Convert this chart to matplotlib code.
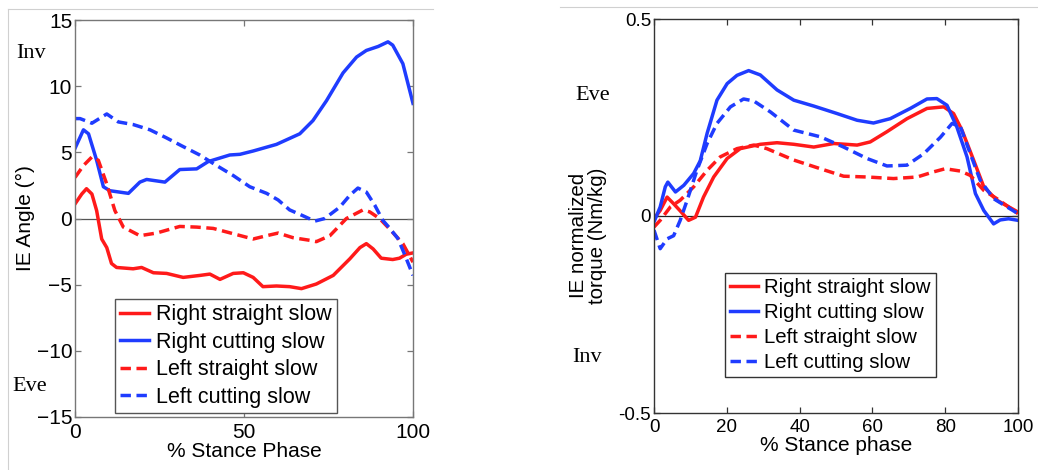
import matplotlib
matplotlib.use("Agg")
import matplotlib.pyplot as plt
from matplotlib.lines import Line2D

plt.rcParams['font.family'] = ['Liberation Sans', 'DejaVu Sans']

# ---- left panel: IE angle ----
rs_x = [0, 2, 3.4, 5, 6.4, 7.9, 9.4, 10.8, 12.3, 17.2, 19.7, 23.2, 27.1, 32, 37, 39.9, 42.9, 46.8,
        49.8, 52.7, 55.6, 59.6, 63.5, 67, 71.4, 76.4, 81.3, 84.3, 86.2, 88.2, 90.6, 94, 96, 98, 100]
rs_y = [1.1, 1.85, 2.25, 1.85, 0.6, -1.55, -2.2, -3.4, -3.7, -3.8, -3.7, -4.1, -4.15, -4.45, -4.3, -4.2,
        -4.6, -4.15, -4.1, -4.45, -5.15, -5.1, -5.15, -5.3, -4.95, -4.3, -3.05, -2.2, -1.9, -2.3, -3.0,
        -3.1, -3.0, -2.7, -2.6]

rc_x = [0, 2.5, 4, 6.4, 8.4, 10.3, 15.8, 19.2, 21.2, 26.6, 31, 36, 39.4, 45.8, 48.8, 52.7, 59.6, 66.5,
        70.4, 74.4, 79.3, 83.3, 86.2, 89.7, 92.6, 94, 97, 100]
rc_y = [5.3, 6.7, 6.4, 4.4, 2.4, 2.1, 1.9, 2.75, 2.95, 2.75, 3.7, 3.75, 4.3, 4.8, 4.85, 5.1, 5.6, 6.4,
        7.4, 8.9, 11.0, 12.2, 12.7, 13.0, 13.35, 13.1, 11.7, 8.7]

ls_x = [0, 2.5, 5, 6.9, 9.4, 11.8, 14.3, 19.2, 24.1, 31, 36, 40.9, 46.8, 52.7, 56.7, 60.1, 64.5, 69.5,
        71.4, 75.4, 80.3, 85.2, 87.2, 90.1, 93.1, 97, 100]
ls_y = [3.1, 4.0, 4.65, 4.4, 2.6, 0.6, -0.65, -1.3, -1.1, -0.6, -0.65, -0.75, -1.15, -1.55, -1.3, -1.1,
        -1.45, -1.65, -1.75, -1.3, 0.0, 0.65, 0.5, 0.0, -0.8, -1.9, -3.3]

lc_x = [0, 1.5, 5, 9.4, 12.8, 17.2, 22.2, 27, 31.5, 36.9, 41.9, 46.8, 51.7, 56.7, 60.1, 63.5, 67.5,
        70.9, 73.9, 78.3, 81.3, 83.7, 86.2, 88.7, 91.1, 93, 95.5, 97.5, 100]
lc_y = [7.55, 7.55, 7.2, 7.9, 7.3, 7.1, 6.7, 6.1, 5.5, 4.8, 4.0, 3.25, 2.4, 1.9, 1.4, 0.65, 0.2, -0.2,
        0.0, 0.85, 1.75, 2.3, 2.0, 1.0, -0.15, -0.7, -1.5, -2.7, -4.3]

# ---- right panel: IE normalized torque ----
trs_x = [0, 1.7, 3.6, 5.4, 7.2, 9.5, 11.4, 13.6, 16.4, 20.1, 23.7, 29.2, 33.8, 38.4, 43.9, 49.4, 55.8,
         59.4, 64, 69.5, 75, 79.6, 82.3, 84.6, 87.8, 90.6, 94.2, 100]
trs_y = [-0.007, 0.014, 0.048, 0.031, 0.013, -0.011, -0.003, 0.048, 0.099, 0.146, 0.171, 0.182, 0.186,
         0.182, 0.175, 0.184, 0.18, 0.188, 0.214, 0.247, 0.273, 0.277, 0.26, 0.218, 0.142, 0.074, 0.04,
         0.01]

trc_x = [0, 1.7, 3.1, 3.8, 5.9, 8.2, 10.9, 12.7, 14.6, 17.3, 20.1, 22.8, 26, 29.2, 33.8, 38.4, 43.9,
         50.3, 55.8, 60.3, 64.9, 70.4, 75, 77.7, 80.5, 83.2, 86, 88.3, 90.6, 93.3, 95.1, 97.4, 100]
trc_y = [-0.015, 0.023, 0.074, 0.086, 0.061, 0.078, 0.108, 0.14, 0.21, 0.294, 0.336, 0.357, 0.369,
         0.358, 0.32, 0.294, 0.279, 0.26, 0.243, 0.236, 0.247, 0.273, 0.297, 0.298, 0.281, 0.226, 0.15,
         0.057, 0.014, -0.02, -0.01, -0.007, -0.011]

tls_x = [0, 1.7, 4.5, 7.2, 10.9, 14.6, 18.2, 22.8, 27.4, 31, 38.4, 45.7, 52.1, 58.5, 65.8, 72.3, 76.8,
         80, 84.2, 86.9, 90.6, 94.2, 100]
tls_y = [-0.028, -0.011, 0.023, 0.04, 0.074, 0.116, 0.15, 0.171, 0.18, 0.171, 0.142, 0.12, 0.101,
         0.099, 0.095, 0.099, 0.112, 0.12, 0.114, 0.103, 0.065, 0.044, 0.006]

tlc_x = [0, 1.7, 3.6, 5.4, 7.2, 9.1, 11.8, 14.6, 17.3, 21, 24.6, 27.4, 32, 38.4, 45.7, 52.1, 58.5, 64,
         69.5, 74.1, 78.7, 81.9, 84.2, 86.9, 89.6, 93.3, 100]
tlc_y = [-0.036, -0.083, -0.058, -0.05, -0.011, 0.04, 0.116, 0.184, 0.235, 0.277, 0.297, 0.292, 0.264,
         0.218, 0.201, 0.175, 0.146, 0.127, 0.129, 0.158, 0.2, 0.235, 0.226, 0.158, 0.091, 0.044, 0.006]

labels = ["Right straight slow", "Right cutting slow", "Left straight slow", "Left cutting slow"]
red = '#ff1a1a'
blue = '#1f3cff'
dash = (3.0, 1.6)
lw = 2.5

fig = plt.figure(figsize=(10.38, 4.7), dpi=100)

# faint panel borders like the source image
fig.add_artist(Line2D([8/1038, 8/1038], [0, 1 - 9/470], color='#d0d0d0', lw=0.8))
fig.add_artist(Line2D([8/1038, 433/1038], [1 - 9/470, 1 - 9/470], color='#d0d0d0', lw=0.8))
fig.add_artist(Line2D([560/1038, 1], [1 - 7/470, 1 - 7/470], color='#d0d0d0', lw=0.8))

ax1 = fig.add_axes([75/1038, 1 - 417/470, 338/1038, 397/470])
ax2 = fig.add_axes([654/1038, 1 - 413/470, 364/1038, 394/470])

# left
ax1.axhline(0, color='#555555', lw=0.9, zorder=1)
ax1.plot(rs_x, rs_y, color=red, lw=lw, label=labels[0])
ax1.plot(rc_x, rc_y, color=blue, lw=lw, label=labels[1])
ax1.plot(ls_x, ls_y, color=red, lw=lw, dashes=dash, label=labels[2])
ax1.plot(lc_x, lc_y, color=blue, lw=lw, dashes=dash, label=labels[3])
ax1.set_xlim(0, 100)
ax1.set_ylim(-15, 15)
ax1.set_xticks([0, 50, 100])
ax1.set_yticks([-15, -10, -5, 0, 5, 10, 15])
ax1.set_xlabel("% Stance Phase", fontsize=15, labelpad=0)
ax1.set_ylabel("IE Angle (°)", fontsize=15, labelpad=1)
ax1.text(-0.175, 0.915, "Inv", transform=ax1.transAxes, fontsize=16, family='Liberation Serif', va='center')
ax1.text(-0.185, 0.078, "Eve", transform=ax1.transAxes, fontsize=16, family='Liberation Serif', va='center')
leg1 = ax1.legend(loc='lower left', bbox_to_anchor=(0.118, 0.01), borderaxespad=0, fontsize=15.5,
                  fancybox=False, edgecolor='#555555', framealpha=1, handlelength=1.35,
                  handletextpad=0.3, labelspacing=0.3, borderpad=0.25)
leg1.get_frame().set_linewidth(1.0)

# right
ax2.axhline(0, color='#222222', lw=0.9, zorder=1)
ax2.plot(trs_x, trs_y, color=red, lw=lw, label=labels[0])
ax2.plot(trc_x, trc_y, color=blue, lw=lw, label=labels[1])
ax2.plot(tls_x, tls_y, color=red, lw=lw, dashes=dash, label=labels[2])
ax2.plot(tlc_x, tlc_y, color=blue, lw=lw, dashes=dash, label=labels[3])
ax2.set_xlim(0, 100)
ax2.set_ylim(-0.5, 0.5)
ax2.set_xticks([0, 20, 40, 60, 80, 100])
ax2.set_yticks([-0.5, 0, 0.5])
ax2.set_yticklabels(["-0.5", "0", "0.5"])
ax2.set_xlabel("% Stance phase", fontsize=15, labelpad=0)
ax2.set_ylabel("IE normalized\ntorque (Nm/kg)", fontsize=14.8, labelpad=4, linespacing=1.0)
ax2.yaxis.set_label_coords(-0.13, 0.45)
ax2.text(-0.215, 0.805, "Eve", transform=ax2.transAxes, fontsize=16, family='Liberation Serif', va='center')
ax2.text(-0.225, 0.14, "Inv", transform=ax2.transAxes, fontsize=16, family='Liberation Serif', va='center')
leg2 = ax2.legend(loc='lower left', bbox_to_anchor=(0.196, 0.091), borderaxespad=0, fontsize=14.7,
                  fancybox=False, edgecolor='#333333', framealpha=1, handlelength=1.35,
                  handletextpad=0.3, labelspacing=0.3, borderpad=0.25)
leg2.get_frame().set_linewidth(1.0)

for ax, col, fs in [(ax1, '#777777', 15), (ax2, '#333333', 13.5)]:
    for sp in ax.spines.values():
        sp.set_color(col)
        sp.set_linewidth(1.0)
    ax.tick_params(direction='in', length=4, width=0.9, color=col, top=True, right=True,
                   labelsize=fs, labelcolor='black')
    ax.tick_params(axis='y', pad=2)
    ax.tick_params(axis='x', pad=4)

fig.savefig("out.png", dpi=100)
